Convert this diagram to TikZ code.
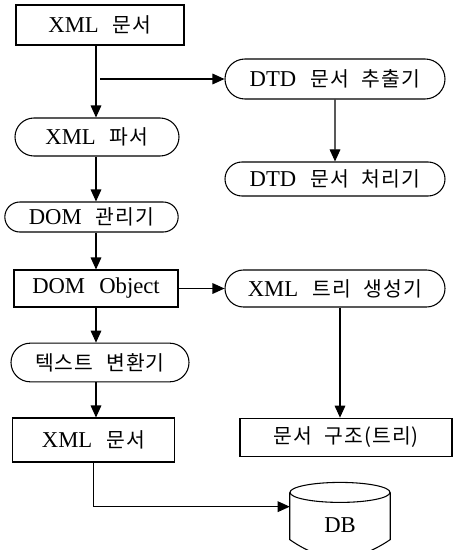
\documentclass[tikz,border=0pt]{standalone}
\usepackage{fontspec}
\setmainfont{Liberation Serif}[WordSpace=2.5]
\newfontfamily\krfont{Noto Sans CJK KR}[Scale=0.9,LetterSpace=5,WordSpace=2.3]
\usetikzlibrary{shapes.misc,arrows.meta,positioning}

\begin{document}
\begin{tikzpicture}[x=0.75pt,y=-0.75pt,
    font=\fontsize{17}{20}\selectfont,
    box/.style={draw, line width=0.8pt, inner sep=0pt},
    stepbox/.style={box, rounded rectangle},
    flow/.style={-{Triangle[length=9pt,width=8pt]}, line width=0.8pt}]
\useasboundingbox (0,0) rectangle (453,550);

% left column
\node[box, minimum width=126pt, minimum height=30pt] (xmldoc) at (100,25) {XML {\krfont 문서}};
\node[stepbox, minimum width=123pt, minimum height=28.5pt] (parser) at (97,137) {XML {\krfont 파서}};
\node[stepbox, minimum width=130pt, minimum height=22.5pt] (dommgr) at (91.5,217) {DOM {\krfont 관리기}};
\node[box, minimum width=123pt, minimum height=27.75pt] (domobj) at (96,288.5) {DOM Object};
\node[stepbox, minimum width=133.5pt, minimum height=29pt] (textconv) at (100,362.5) {{\krfont 텍스트 변환기}};
\node[box, minimum width=122pt, minimum height=33pt] (xmlout) at (93.5,440) {XML {\krfont 문서}};

% right column
\node[stepbox, minimum width=165pt, minimum height=30pt] (dtdext) at (335,79) {DTD {\krfont 문서 추출기}};
\node[stepbox, minimum width=165pt, minimum height=25.5pt] (dtdproc) at (335,179) {DTD {\krfont 문서 처리기}};
\node[stepbox, minimum width=165pt, minimum height=27.75pt] (treegen) at (335,288.5) {XML {\krfont 트리 생성기}};
\node[box, minimum width=159pt, minimum height=29pt] (docstruct) at (346,437.5) {{\krfont 문서 구조(트리)}};

% database
\node[minimum width=75pt, minimum height=35pt, inner sep=0pt, text height=25pt] (db) at (340,516) {DB};
\draw[line width=0.8pt] (db.north) ellipse [x radius=50, y radius=10];
\draw[line width=0.8pt] (db.north west) -- (db.south west)
    .. controls +(40,28) and +(-30,20) .. (db.south east) -- (db.north east);

% connectors
\coordinate (col) at (96,0);
\coordinate (split) at (col |- dtdext.west);
\draw[flow] (col |- xmldoc.south) -- (col |- parser.north);
\draw[flow] ([xshift=3pt]split) -- (dtdext.west);
\draw[flow] (dtdext) -- (dtdproc);
\draw[flow] (col |- parser.south) -- (col |- dommgr.north);
\draw[flow] (col |- dommgr.south) -- (col |- domobj.north);
\draw[flow] (domobj) -- (treegen);
\draw[flow] (col |- domobj.south) -- (col |- textconv.north);
\draw[flow] (col |- textconv.south) -- (col |- xmlout.north);
\draw[flow] ([xshift=3.75pt]treegen.south) -- ([xshift=3.75pt]treegen.south |- docstruct.north);
\draw[flow] (xmlout.south) |- ([yshift=7pt]db.west);
\end{tikzpicture}
\end{document}
